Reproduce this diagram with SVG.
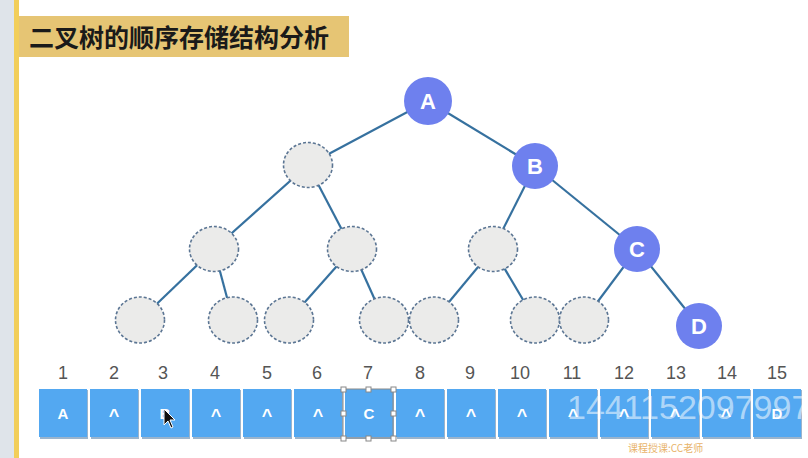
<svg xmlns="http://www.w3.org/2000/svg" width="808" height="458" viewBox="0 0 808 458">
<defs>
<style>
.edge{stroke:#36719f;stroke-width:2.2;fill:none}
.full{fill:#6e80ee}
.empty{fill:#ebebea;stroke:#5b7593;stroke-width:1.6;stroke-dasharray:3 2}
.nl{font-family:"Liberation Sans",Arial,sans-serif;font-weight:bold;font-size:22px;fill:#ffffff;text-anchor:middle}
.cell{fill:#53a8f1}
.cshadow{fill:#9bb4cc}
.ct{font-family:"Liberation Sans",Arial,sans-serif;font-weight:bold;font-size:15px;fill:#ffffff;text-anchor:middle}
.car{font-family:"Liberation Sans",Arial,sans-serif;font-weight:bold;font-size:18px;fill:#ffffff;text-anchor:middle}
.idx{font-family:"Liberation Sans",Arial,sans-serif;font-size:18px;fill:#555555;text-anchor:middle}
.h{fill:#ffffff;stroke:#888888;stroke-width:1}
</style>
</defs>
<rect x="0" y="0" width="808" height="458" fill="#ffffff"/>
<rect x="0" y="0" width="14" height="458" fill="#dfe4ea"/>
<rect x="14" y="0" width="5" height="458" fill="#f2ce5a"/>
<g id="title">
<rect x="19" y="16" width="330" height="41" fill="#e6c574"/>
<text x="29" y="47" font-family="'Noto Sans CJK SC',sans-serif" font-weight="bold" font-size="25" fill="#1a1a1a">二叉树的顺序存储结构分析</text>
</g>
<g id="connectors">
<line class="edge" x1="428" y1="101" x2="308" y2="165"/>
<line class="edge" x1="428" y1="101" x2="535" y2="166"/>
<line class="edge" x1="308" y1="165" x2="214" y2="249"/>
<line class="edge" x1="308" y1="165" x2="352" y2="249"/>
<line class="edge" x1="535" y1="166" x2="493" y2="249"/>
<line class="edge" x1="535" y1="166" x2="637" y2="249"/>
<line class="edge" x1="214" y1="249" x2="140" y2="320"/>
<line class="edge" x1="214" y1="249" x2="233" y2="320"/>
<line class="edge" x1="352" y1="249" x2="289" y2="320"/>
<line class="edge" x1="352" y1="249" x2="384" y2="320"/>
<line class="edge" x1="493" y1="249" x2="434" y2="320"/>
<line class="edge" x1="493" y1="249" x2="535" y2="320"/>
<line class="edge" x1="637" y1="249" x2="584" y2="320"/>
<line class="edge" x1="637" y1="249" x2="699" y2="326"/>
</g>
<g id="nodeA"><circle class="full" cx="428" cy="101" r="24"/><text class="nl" x="428" y="109">A</text></g>
<g id="node2"><ellipse class="empty" cx="308" cy="165" rx="24.5" ry="22.5"/></g>
<g id="nodeB"><circle class="full" cx="535" cy="166" r="23"/><text class="nl" x="535" y="174">B</text></g>
<g id="node4"><ellipse class="empty" cx="214" cy="249" rx="24.5" ry="22.5"/></g>
<g id="node5"><ellipse class="empty" cx="352" cy="249" rx="24.5" ry="22.5"/></g>
<g id="node6"><ellipse class="empty" cx="493" cy="249" rx="24.5" ry="22.5"/></g>
<g id="nodeC"><circle class="full" cx="637" cy="249" r="23"/><text class="nl" x="637" y="257">C</text></g>
<g id="node8"><ellipse class="empty" cx="140" cy="320" rx="24.5" ry="23"/></g>
<g id="node9"><ellipse class="empty" cx="233" cy="320" rx="24.5" ry="23"/></g>
<g id="node10"><ellipse class="empty" cx="289" cy="320" rx="24.5" ry="23"/></g>
<g id="node11"><ellipse class="empty" cx="384" cy="320" rx="24.5" ry="23"/></g>
<g id="node12"><ellipse class="empty" cx="434" cy="320" rx="24.5" ry="23"/></g>
<g id="node13"><ellipse class="empty" cx="535" cy="320" rx="24.5" ry="23"/></g>
<g id="node14"><ellipse class="empty" cx="584" cy="320" rx="24.5" ry="23"/></g>
<g id="nodeD"><circle class="full" cx="699" cy="326" r="23"/><text class="nl" x="699" y="334">D</text></g>
<g id="array">
<text class="idx" x="63" y="379">1</text>
<text class="idx" x="114" y="379">2</text>
<text class="idx" x="163" y="379">3</text>
<text class="idx" x="215" y="379">4</text>
<text class="idx" x="267" y="379">5</text>
<text class="idx" x="317" y="379">6</text>
<text class="idx" x="368" y="379">7</text>
<text class="idx" x="420" y="379">8</text>
<text class="idx" x="470" y="379">9</text>
<text class="idx" x="520" y="379">10</text>
<text class="idx" x="572" y="379">11</text>
<text class="idx" x="624" y="379">12</text>
<text class="idx" x="676" y="379">13</text>
<text class="idx" x="727" y="379">14</text>
<text class="idx" x="777" y="379">15</text>
<g id="cell1"><rect class="cshadow" x="40" y="390" width="48" height="49"/><rect class="cell" x="39" y="389" width="48" height="48"/><text class="ct" x="63" y="419">A</text></g>
<g id="cell2"><rect class="cshadow" x="91" y="390" width="48" height="49"/><rect class="cell" x="90" y="389" width="48" height="48"/><text class="car" x="114" y="422">^</text></g>
<g id="cell3"><rect class="cshadow" x="142" y="390" width="48" height="49"/><rect class="cell" x="141" y="389" width="48" height="48"/><text class="ct" x="165" y="419">B</text></g>
<g id="cell4"><rect class="cshadow" x="193" y="390" width="48" height="49"/><rect class="cell" x="192" y="389" width="48" height="48"/><text class="car" x="216" y="422">^</text></g>
<g id="cell5"><rect class="cshadow" x="244" y="390" width="48" height="49"/><rect class="cell" x="243" y="389" width="48" height="48"/><text class="car" x="267" y="422">^</text></g>
<g id="cell6"><rect class="cshadow" x="295" y="390" width="48" height="49"/><rect class="cell" x="294" y="389" width="48" height="48"/><text class="car" x="318" y="422">^</text></g>
<g id="cell7"><rect class="cshadow" x="346" y="390" width="48" height="49"/><rect class="cell" x="345" y="389" width="48" height="48"/><text class="ct" x="369" y="419" font-weight="normal">C</text></g>
<g id="cell8"><rect class="cshadow" x="397" y="390" width="48" height="49"/><rect class="cell" x="396" y="389" width="48" height="48"/><text class="car" x="420" y="422">^</text></g>
<g id="cell9"><rect class="cshadow" x="448" y="390" width="48" height="49"/><rect class="cell" x="447" y="389" width="48" height="48"/><text class="car" x="471" y="422">^</text></g>
<g id="cell10"><rect class="cshadow" x="499" y="390" width="48" height="49"/><rect class="cell" x="498" y="389" width="48" height="48"/><text class="car" x="522" y="422">^</text></g>
<g id="cell11"><rect class="cshadow" x="550" y="390" width="48" height="49"/><rect class="cell" x="549" y="389" width="48" height="48"/><text class="car" x="573" y="422">^</text></g>
<g id="cell12"><rect class="cshadow" x="601" y="390" width="48" height="49"/><rect class="cell" x="600" y="389" width="48" height="48"/><text class="car" x="624" y="422">^</text></g>
<g id="cell13"><rect class="cshadow" x="652" y="390" width="48" height="49"/><rect class="cell" x="651" y="389" width="48" height="48"/><text class="car" x="675" y="422">^</text></g>
<g id="cell14"><rect class="cshadow" x="703" y="390" width="48" height="49"/><rect class="cell" x="702" y="389" width="48" height="48"/><text class="car" x="726" y="422">^</text></g>
<g id="cell15"><rect class="cshadow" x="754" y="390" width="48" height="49"/><rect class="cell" x="753" y="389" width="48" height="48"/><text class="ct" x="777" y="419" font-weight="normal">D</text></g>
</g>
<g id="selection">
<rect x="343" y="389" width="50" height="49" fill="none" stroke="#8a8a8a" stroke-width="1"/>
<rect class="h" x="341" y="387" width="5" height="5"/>
<rect class="h" x="366" y="387" width="5" height="5"/>
<rect class="h" x="391" y="387" width="5" height="5"/>
<rect class="h" x="341" y="411" width="5" height="5"/>
<rect class="h" x="391" y="411" width="5" height="5"/>
<rect class="h" x="341" y="436" width="5" height="5"/>
<rect class="h" x="366" y="436" width="5" height="5"/>
<rect class="h" x="391" y="436" width="5" height="5"/>
</g>
<polygon points="164,409 164,425 168,421 171,428 173,427 170,420 175,420" fill="#111111" stroke="#ffffff" stroke-width="1"/>
<text x="567" y="419" font-family="'Liberation Sans',Arial,sans-serif" font-size="34" fill="#ffffff" fill-opacity="0.55">1441152097997</text>
<text x="628" y="452" font-family="'Noto Sans CJK SC',sans-serif" font-size="10" fill="#e8b36a">课程授课:CC老师</text>
</svg>
